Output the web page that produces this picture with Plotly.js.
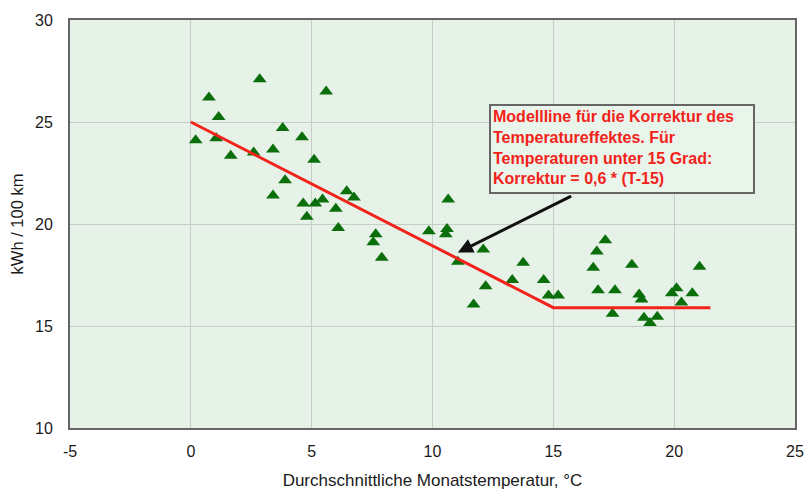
<!DOCTYPE html>
<html>
<head>
<meta charset="utf-8">
<script src="https://cdn.plot.ly/plotly-3.0.1.min.js"></script>
<style>html,body{margin:0;padding:0;background:#fff;}#chart{width:806px;height:490px;}</style>
</head>
<body>
<div id="chart"></div>
<script>
// Measured points: average monthly temperature (°C) vs consumption (kWh / 100 km)
var tempC = [0.2, 0.75, 1.15, 1.05, 1.65, 2.85, 2.6, 3.4, 3.4, 3.8, 3.9, 4.6, 5.1, 5.6, 4.65, 4.8, 5.15, 5.45, 6.0, 6.1, 6.45, 6.75, 7.65, 7.55, 7.9, 9.85, 10.65, 10.6, 10.55, 11.05, 12.1, 11.7, 12.2, 13.3, 13.75, 14.6, 14.8, 15.2, 16.65, 16.8, 17.15, 16.85, 17.55, 17.45, 18.25, 18.55, 18.65, 18.75, 19.0, 19.3, 19.9, 20.1, 20.3, 20.75, 21.05];
var kwh = [24.1, 26.2, 25.25, 24.2, 23.35, 27.1, 23.5, 21.4, 23.65, 24.7, 22.15, 24.25, 23.15, 26.5, 21.0, 20.35, 21.0, 21.2, 20.75, 19.8, 21.6, 21.3, 19.5, 19.1, 18.35, 19.65, 21.2, 19.75, 19.5, 18.15, 18.75, 16.05, 16.95, 17.25, 18.1, 17.25, 16.5, 16.5, 17.85, 18.65, 19.2, 16.75, 16.75, 15.6, 18.0, 16.55, 16.3, 15.4, 15.15, 15.45, 16.6, 16.85, 16.15, 16.6, 17.9];
// Model line
var modelX = [0, 15, 21.5];
var modelY = [25, 15.9, 15.9];
// Axis ticks
var xTicks = [-5, 0, 5, 10, 15, 20, 25];
var yTicks = [10, 15, 20, 25, 30];
// Texts
var xTitle = 'Durchschnittliche Monatstemperatur, °C';
var yTitle = 'kWh / 100 km';
var noteText = 'Modellline für die Korrektur des<br>Temperatureffektes. Für<br>Temperaturen unter 15 Grad:<br>Korrektur = 0,6 * (T-15)';
// Annotation anchor (data coords)
var arrowTip = [11.05, 18.6];
var arrowTail = [15.8, 21.4];
var noteCorner = [12.33, 25.9];

var font = 'Liberation Sans, Arial, sans-serif';

var traces = [
  {
    x: tempC, y: kwh, type: 'scatter', mode: 'markers',
    marker: {symbol: 'triangle-up', size: 12, color: '#0a6e0a'},
    hoverinfo: 'skip'
  },
  {
    x: modelX, y: modelY, type: 'scatter', mode: 'lines',
    line: {color: '#f2231b', width: 3},
    hoverinfo: 'skip'
  }
];

var layout = {
  width: 806, height: 490,
  margin: {l: 70, r: 11, t: 20, b: 62},
  paper_bgcolor: '#ffffff',
  plot_bgcolor: '#e6f2e7',
  showlegend: false,
  font: {family: font, color: '#1a1a1a'},
  xaxis: {
    range: [-5, 25], tickvals: xTicks, ticktext: xTicks.map(String),
    showgrid: true, gridcolor: '#c5cdc6', gridwidth: 1, zeroline: false,
    showline: true, linecolor: '#666666', linewidth: 2, mirror: true,
    ticks: '', ticklabelstandoff: 8,
    tickfont: {family: font, size: 16, color: '#1a1a1a'},
    title: {text: xTitle, font: {family: font, size: 17, color: '#1a1a1a'}, standoff: 18}
  },
  yaxis: {
    range: [10, 30], tickvals: yTicks, ticktext: yTicks.map(String),
    showgrid: true, gridcolor: '#c5cdc6', gridwidth: 1, zeroline: false,
    showline: true, linecolor: '#666666', linewidth: 2, mirror: true,
    ticks: '', ticklabelstandoff: 12,
    tickfont: {family: font, size: 16, color: '#1a1a1a'},
    title: {text: yTitle, font: {family: font, size: 16.5, color: '#1a1a1a'}, standoff: 7}
  },
  annotations: [
    {
      x: arrowTip[0], y: arrowTip[1], xref: 'x', yref: 'y',
      ax: arrowTail[0], ay: arrowTail[1], axref: 'x', ayref: 'y',
      text: '', showarrow: true, arrowhead: 2, arrowsize: 1, arrowwidth: 3, arrowcolor: '#111111'
    },
    {
      x: noteCorner[0], y: noteCorner[1], xref: 'x', yref: 'y',
      xanchor: 'left', yanchor: 'top', showarrow: false,
      text: noteText, align: 'left', valign: 'top',
      font: {family: font, size: 16, color: '#f2231b', weight: 'bold'},
      bgcolor: '#e9f4ea', bordercolor: '#666666', borderwidth: 2, borderpad: 2,
      width: 258, height: 82
    }
  ]
};

Plotly.newPlot('chart', traces, layout, {staticPlot: true, displayModeBar: false});
</script>
</body>
</html>
